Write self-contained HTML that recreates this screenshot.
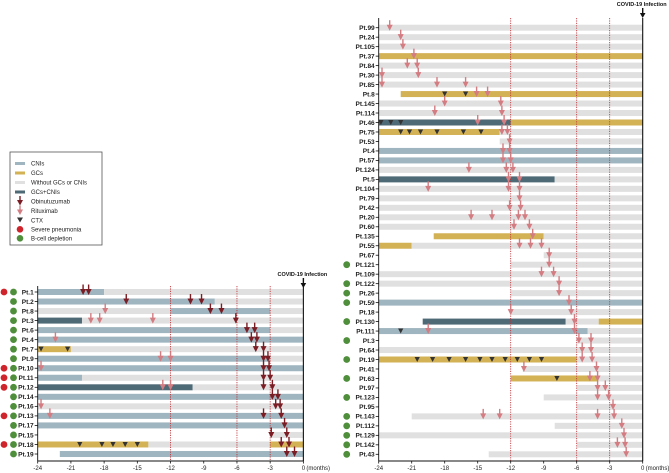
<!DOCTYPE html>
<html><head><meta charset="utf-8"><style>
html,body{margin:0;padding:0;background:#fff;}
svg{display:block;font-family:"Liberation Sans",sans-serif;}
.lbl{font-size:6.5px;font-weight:bold;fill:#222;}
.tk{font-size:6px;fill:#222;}
</style></head><body>
<svg id="chart" width="669" height="473" viewBox="0 0 669 473" xmlns="http://www.w3.org/2000/svg">
<g>
<rect x="10" y="152" width="92" height="93" fill="#fff" stroke="#555" stroke-width="0.8"/>
<g><rect x="15" y="162" width="10" height="3" fill="#9fb5bf"/><text x="31" y="165.5" class="tk">CNIs</text></g>
<g><rect x="15" y="171.5" width="10" height="3" fill="#d3b256"/><text x="31" y="175" class="tk">GCs</text></g>
<g><rect x="15" y="181" width="10" height="3" fill="#e0e0e0"/><text x="31" y="184.5" class="tk">Without GCs or CNIs</text></g>
<g><rect x="15" y="190.5" width="10" height="3" fill="#4e6a76"/><text x="31" y="194" class="tk">GCs+CNIs</text></g>
<g><rect x="19.3" y="196" width="1.4" height="6" fill="#7b1d24"/><polygon points="17,200 23,200 20,205.5" fill="#7b1d24"/><text x="31" y="203.5" class="tk">Obinutuzumab</text></g>
<g><rect x="19.3" y="205.5" width="1.4" height="6" fill="#d37c82"/><polygon points="17,209.5 23,209.5 20,215" fill="#d37c82"/><text x="31" y="213" class="tk">Rituximab</text></g>
<g><polygon points="17,217.5 23,217.5 20,222.5" fill="#333"/><text x="31" y="222.3" class="tk">CTX</text></g>
<g><circle cx="20" cy="229.3" r="3.3" fill="#d0242c"/><text x="31" y="231.5" class="tk">Severe pneumonia</text></g>
<g><circle cx="20" cy="238.3" r="3.3" fill="#4f8f3c"/><text x="31" y="240.5" class="tk">B-cell depletion</text></g>
</g>
<g id="left"></g>
<g id="right"></g>
</svg>
<script>
// ---- data: left panel ----
const leftPatients = ["Pt.1","Pt.2","Pt.8","Pt.3","Pt.6","Pt.4","Pt.7","Pt.9","Pt.10","Pt.11","Pt.12","Pt.14","Pt.16","Pt.13","Pt.17","Pt.15","Pt.18","Pt.19"];
const leftSegments = [
 [[-24,-18,"C"],[-18,0,"N"]],
 [[-24,-8,"C"],[-8,0,"N"]],
 [[-24,-12,"N"],[-12,-3,"C"],[-3,0,"N"]],
 [[-24,-20,"B"],[-20,0,"N"]],
 [[-24,-3,"C"],[-3,0,"N"]],
 [[-24,0,"C"]],
 [[-24,-21,"G"],[-21,0,"N"]],
 [[-24,-3,"C"],[-3,0,"N"]],
 [[-24,0,"C"]],
 [[-24,-20,"C"],[-20,0,"N"]],
 [[-24,-10,"B"],[-10,0,"N"]],
 [[-24,0,"C"]],
 [[-24,0,"N"]],
 [[-24,0,"C"]],
 [[-24,0,"C"]],
 [[-3,0,"N"]],
 [[-24,-14,"G"],[-14,-3,"N"],[-3,0,"G"]],
 [[-22,0,"C"]]
];
const leftObinutuzumab = [[-19.9,-19.4],[-16,-10.2,-9.2],[-8.4,-7.4],[-6.1],[-5.1,-4.4],[-4.7,-4.2],[-4.3,-3.6],[-3.6,-3.2],[-3.6,-3.1],[-3.6,-3],[-3.6,-2.8],[-2.8,-2.3],[-2.5,-2.1],[-3.6,-2],[-1.7],[-2.9,-1.5],[-2,-1.3],[-1.5,-0.8]];
const leftRituximab = [[],[],[-17.9],[-19.2,-18.4,-13.6],[],[-22.4],[],[-12.9,-12],[-23.7],[],[-12.7,-12],[],[-23.7],[-22.9],[],[],[],[]];
const leftCTX = [[],[],[],[],[],[],[-23.7,-21.3],[],[],[],[],[],[],[],[],[],[-20.2,-18.2,-17.2,-16.1,-15],[]];
const leftSevere = [1,0,0,0,0,0,0,0,1,1,1,0,0,1,0,0,1,0];
const leftDepletion = [1,1,1,1,1,1,1,1,1,1,1,1,1,1,1,1,1,1];
// ---- data: right panel ----
const rightPatients = ["Pt.99","Pt.24","Pt.105","Pt.37","Pt.84","Pt.30","Pt.85","Pt.8","Pt.145","Pt.114","Pt.46","Pt.75","Pt.53","Pt.4","Pt.57","Pt.124","Pt.5","Pt.104","Pt.79","Pt.42","Pt.20","Pt.60","Pt.135","Pt.55","Pt.67","Pt.121","Pt.109","Pt.122","Pt.26","Pt.59","Pt.18","Pt.130","Pt.111","Pt.3","Pt.64","Pt.19","Pt.41","Pt.63","Pt.97","Pt.123","Pt.95","Pt.143","Pt.112","Pt.129","Pt.142","Pt.43"];
const rightSegments = [
 [[-24,0,"N"]],[[-24,0,"N"]],[[-24,0,"N"]],[[-24,0,"G"]],[[-24,0,"N"]],[[-24,0,"N"]],[[-24,0,"N"]],
 [[-22,0,"G"]],[[-24,0,"N"]],[[-24,0,"N"]],
 [[-24,-12,"B"],[-12,0,"G"]],
 [[-24,-13,"G"],[-13,0,"N"]],
 [[-13,0,"N"]],[[-24,0,"C"]],[[-24,0,"C"]],[[-24,0,"N"]],
 [[-24,-8,"B"],[-8,0,"N"]],
 [[-24,0,"N"]],[[-24,0,"N"]],[[-24,0,"N"]],[[-24,0,"N"]],[[-24,0,"N"]],
 [[-19,-9,"G"],[-9,0,"N"]],
 [[-24,-21,"G"],[-21,0,"N"]],
 [[-9,0,"N"]],[[-12,0,"N"]],[[-24,0,"N"]],[[-24,0,"N"]],[[-12,0,"N"]],[[-24,0,"C"]],[[-12,0,"N"]],
 [[-20,-7,"B"],[-7,-4,"N"],[-4,0,"G"]],
 [[-24,-5,"C"],[-5,0,"N"]],
 [[-6,0,"N"]],[[-24,0,"N"]],
 [[-24,-6,"G"],[-6,0,"N"]],
 [[-10.9,0,"N"]],
 [[-12,-4.1,"G"],[-4.1,0,"N"]],
 [[-6,0,"N"]],[[-9,0,"N"]],[[-6,0,"N"]],[[-21,0,"N"]],[[-8,0,"N"]],[[-24,0,"N"]],[[-6,0,"N"]],[[-14,0,"N"]]
];
const rightRituximab = [[-23],[-22],[-21.8],[-20.8],[-21.4,-20.5],[-23.7,-20.4],[-23.7,-18.7,-16.1],[-15.1,-14.1],[-18,-12.9],[-18.9,-12.8],[-15,-12.6],[-12.8,-12.3],[-12.1],[-12.7,-12.1],[-12.7,-12],[-15.8,-12.4,-11.8],[-12.2,-11.2],[-19.5,-12.2,-11.2],[-11.2],[-12.1,-11.1],[-15.6,-13.7,-11.3,-10.7],[-11.7,-10.3],[-10],[-11.2,-10.2,-9.2],[-8.5],[-8.5],[-9.2,-8.1],[-7.6],[-7.6],[-6.7],[-12,-6.5],[-6.2],[-19.5,-6.2],[-5.8,-4.7],[-5.5,-4.7],[-5.5,-4.6],[-10.8,-4.2],[-4.8,-4.1],[-4.1,-3.4],[-4.1,-3.1],[-2.7],[-14.5,-13,-4.1,-2.6],[-1.9],[-1.7],[-2.3,-1.6],[-1.5]];
const rightCTX = [[],[],[],[],[],[],[],[-18,-16.1],[],[],[-23.8,-22.9,-22],[-22,-21.2,-20.2,-18.7,-16.3,-14.7],[],[],[],[],[],[],[],[],[],[],[],[],[],[],[],[],[],[],[],[],[-22],[],[],[-20.5,-19.1,-17.6,-16.1,-14.8,-13.7,-12.5,-11.4,-10.3,-9.2],[],[-7.8],[],[],[],[],[],[],[],[]];
const rightDepletion = [0,0,0,0,0,0,0,0,0,0,0,0,0,0,0,0,0,0,0,0,0,0,0,0,0,1,0,1,1,1,0,1,0,1,0,1,0,1,0,1,0,1,1,1,1,1];
const xTicks = [-24,-21,-18,-15,-12,-9,-6,-3,0];
const refLines = [-12,-6,-3];

const COLORS = {C:"#9fb5bf",G:"#d3b256",N:"#e0e0e0",B:"#4e6a76"};
const NS = "http://www.w3.org/2000/svg";
function mk(parent, tag, attrs){const e=document.createElementNS(NS,tag);for(const k in attrs)e.setAttribute(k,attrs[k]);parent.appendChild(e);return e;}

function drawPanel(g, cfg){
  const xs = m => cfg.x0 + (m+24)*cfg.ppm;
  const ys = i => cfg.y0 + i*cfg.dy;
  const n = cfg.patients.length;
  const axisY = cfg.axisY;
  const top = cfg.top;
  // bars
  cfg.patients.forEach((p,i)=>{
    const y = ys(i);
    cfg.segments[i].forEach(s=>{
      const r = mk(g,"rect",{x:xs(s[0]),y:y-3,width:xs(s[1])-xs(s[0]),height:6,fill:COLORS[s[2]]});
      
      
    });
  });
  // reference lines
  refLines.forEach(m=>{
    const l = mk(g,"line",{x1:xs(m),x2:xs(m),y1:top,y2:axisY,stroke:"#c0262c","stroke-width":0.8,"stroke-dasharray":"1.2,1.2"});
    
    
  });
  const zl = mk(g,"line",{x1:xs(0),x2:xs(0),y1:top,y2:axisY,stroke:"#111","stroke-width":1.1});
  
  
  // infection label and arrow
  const it = mk(g,"text",{x:xs(0)-1,y:cfg.labelY,"text-anchor":"middle","font-size":"5.5px","font-weight":"bold",fill:"#111"});
  it.textContent = "COVID-19 Infection";
  
  
  mk(g,"rect",{x:xs(0)-0.7,y:cfg.labelY+2,width:1.4,height:6,fill:"#111"});
  mk(g,"polygon",{points:`${xs(0)-2.8},${cfg.labelY+7} ${xs(0)+2.8},${cfg.labelY+7} ${xs(0)},${cfg.labelY+12}`,fill:"#111"});
  // arrows
  function arrow(m,i,col,name){
    const x=xs(m), y=ys(i);
    const a = mk(g,"g",{});
    
    
    mk(a,"rect",{x:x-0.7,y:y-7.5,width:1.4,height:6,fill:col});
    mk(a,"polygon",{points:`${x-3},${y-3} ${x+3},${y-3} ${x},${y+3}`,fill:col});
  }
  cfg.rit.forEach((arr,i)=>arr.forEach(m=>arrow(m,i,"#d37c82","rituximab-arrow")));
  if(cfg.obi) cfg.obi.forEach((arr,i)=>arr.forEach(m=>arrow(m,i,"#7b1d24","obinutuzumab-arrow")));
  cfg.ctx.forEach((arr,i)=>arr.forEach(m=>{
    const x=xs(m), y=ys(i);
    const t = mk(g,"polygon",{points:`${x-2.6},${y-2.5} ${x+2.6},${y-2.5} ${x},${y+2.5}`,fill:"#333"});
    
    
  }));
  // y axis
  const ya = mk(g,"line",{x1:cfg.x0,x2:cfg.x0,y1:top,y2:axisY,stroke:"#111","stroke-width":0.9});
  
  
  cfg.patients.forEach((p,i)=>{
    const y=ys(i);
    mk(g,"line",{x1:cfg.x0-3,x2:cfg.x0,y1:y,y2:y,stroke:"#111","stroke-width":0.8});
    const t = mk(g,"text",{x:cfg.x0-4,y:y+2.3,"text-anchor":"end",class:"lbl"});
    t.textContent = p;
    
    
    if(cfg.severe && cfg.severe[i]){
      const c = mk(g,"circle",{cx:4,cy:y,r:3.4,fill:"#d0242c"});
      
      
    }
    if(cfg.dep[i]){
      const c = mk(g,"circle",{cx:cfg.depX,cy:y,r:3.4,fill:"#4f8f3c"});
      
      
    }
  });
  // x axis
  const xa = mk(g,"line",{x1:cfg.x0,x2:xs(0),y1:axisY,y2:axisY,stroke:"#111","stroke-width":0.9});
  
  
  xTicks.forEach(m=>{
    mk(g,"line",{x1:xs(m),x2:xs(m),y1:axisY,y2:axisY+2.5,stroke:"#111","stroke-width":0.8});
    const t = mk(g,"text",{x:xs(m),y:axisY+9,"text-anchor":"middle",class:"tk"});
    t.textContent = m;
    
    
  });
  const u = mk(g,"text",{x:xs(0)+3,y:axisY+9,class:"tk","font-size":"5.5px"});
  u.textContent = "(months)";
  
  
}

drawPanel(document.getElementById("left"),{
  patients:leftPatients, segments:leftSegments, rit:leftRituximab, obi:leftObinutuzumab, ctx:leftCTX,
  severe:leftSevere, dep:leftDepletion, depX:13.5,
  x0:37.7, ppm:11.07, y0:292, dy:9.53, top:286, axisY:461, labelY:276
});
drawPanel(document.getElementById("right"),{
  patients:rightPatients, segments:rightSegments, rit:rightRituximab, obi:null, ctx:rightCTX,
  severe:null, dep:rightDepletion, depX:346.7,
  x0:378.7, ppm:11.0, y0:27.7, dy:9.48, top:18, axisY:461, labelY:6
});
</script>
</body></html>
